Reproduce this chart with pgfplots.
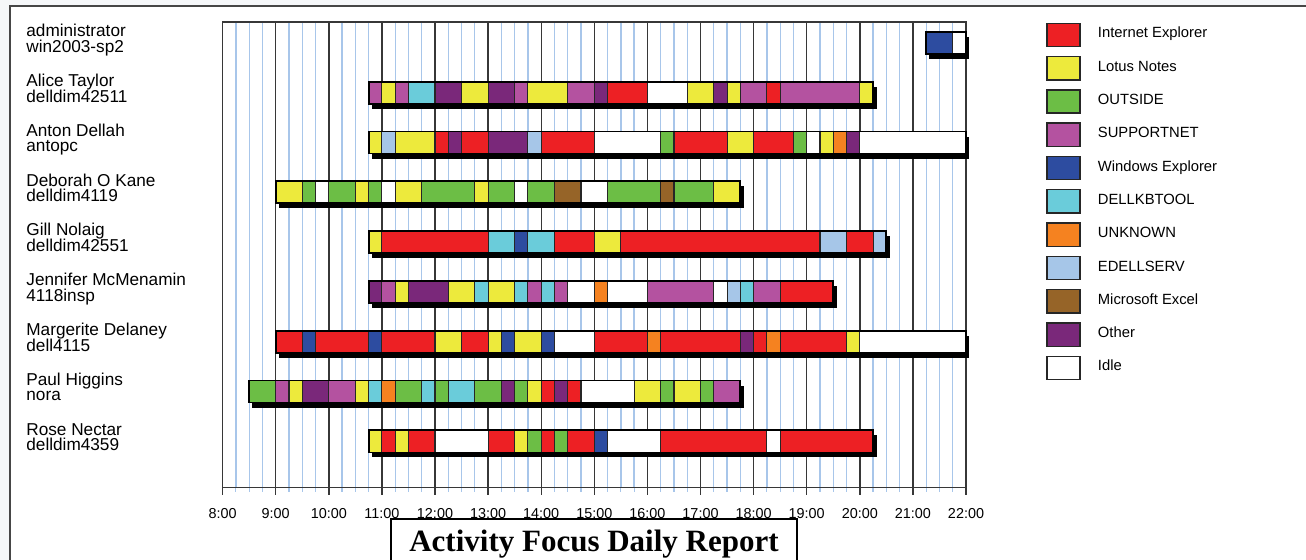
\documentclass[border=0pt]{standalone}
\usepackage{pgfplots}
\pgfplotsset{compat=1.18}
\usepackage{fontspec}
\setmainfont{Liberation Sans}
\newfontfamily\titlefont{Liberation Serif}
\definecolor{IE}{RGB}{237,32,36}
\definecolor{LN}{RGB}{237,234,60}
\definecolor{OUT}{RGB}{108,190,69}
\definecolor{SUP}{RGB}{180,82,160}
\definecolor{WE}{RGB}{45,76,160}
\definecolor{KB}{RGB}{106,204,218}
\definecolor{UNK}{RGB}{245,130,32}
\definecolor{ES}{RGB}{166,198,232}
\definecolor{XL}{RGB}{150,100,40}
\definecolor{OTH}{RGB}{122,40,122}
\definecolor{IDL}{RGB}{255,255,255}
\definecolor{gridblue}{RGB}{168,198,234}
\definecolor{hourline}{RGB}{55,55,55}
\definecolor{bgout}{RGB}{245,247,249}
\definecolor{framec}{RGB}{70,70,70}
% one segment of a row: row, start hour, end hour, colour
\newcommand\seg[4]{%
  \pgfmathsetmacro\yA{-#1-0.2209}%
  \pgfmathsetmacro\yB{-#1+0.2209}%
  \edef\tmp{\noexpand\addplot[fill=#4, draw=black!85, line width=0.55pt] coordinates {(#2,\yA) (#3,\yA) (#3,\yB) (#2,\yB)} -- cycle;}%
  \tmp}
\newcommand\shadowbar[3]{%
  \pgfmathsetmacro\yA{-#1-0.2209-0.1}%
  \pgfmathsetmacro\yB{-#1+0.2209-0.1}%
  \pgfmathsetmacro\xA{#2+0.06}%
  \pgfmathsetmacro\xB{#3+0.065}%
  \edef\tmp{\noexpand\addplot[fill=black, draw=none] coordinates {(\xA,\yA) (\xB,\yA) (\xB,\yB) (\xA,\yB)} -- cycle;}%
  \tmp}
\newcommand\outlinebar[3]{%
  \pgfmathsetmacro\yA{-#1-0.2209}%
  \pgfmathsetmacro\yB{-#1+0.2209}%
  \edef\tmp{\noexpand\addplot[fill=none, draw=black, line width=0.9pt] coordinates {(#2,\yA) (#3,\yA) (#3,\yB) (#2,\yB)} -- cycle;}%
  \tmp}
\begin{document}
\begin{tikzpicture}
\begin{scope}[x=0.5pt,y=-0.5pt]
\fill[bgout] (0,0) rectangle (1306,560);
\fill[white] (10,6) rectangle (1306,560);
\draw[framec, line width=0.75pt] (10,560) -- (10,6) -- (1306,6);
\end{scope}
\begin{axis}[
  at={(111.3pt,-243.85pt)}, anchor=south west,
  scale only axis, width=371.7pt, height=232.85pt,
  xmin=8, xmax=22, ymin=-8.9297, ymax=0.4217,
  clip=false,
  xtick={8,9,...,22},
  xticklabels={8:00,9:00,10:00,11:00,12:00,13:00,14:00,15:00,16:00,17:00,18:00,19:00,20:00,21:00,22:00},
  minor x tick num=3,
  ytick=\empty,
  xmajorgrids, xminorgrids,
  major grid style={draw=hourline, line width=0.7pt},
  minor grid style={draw=gridblue, line width=0.65pt},
  axis line style={draw=hourline, line width=0.75pt},
  tick align=outside, xtick pos=bottom,
  major tick length=3.5pt, minor tick length=2pt,
  major tick style={draw=hourline, line width=0.7pt},
  minor tick style={draw=gridblue, line width=0.6pt},
  xticklabel style={font=\fontsize{7.2}{8}\selectfont, anchor=north, inner sep=0pt, yshift=-6.5pt},
]
% administrator
\shadowbar{0}{21.25}{22}
\seg{0}{21.25}{21.75}{WE}
\seg{0}{21.75}{22}{IDL}
\outlinebar{0}{21.25}{22}
% Alice Taylor
\shadowbar{1}{10.75}{20.25}
\seg{1}{10.75}{11}{SUP}
\seg{1}{11}{11.25}{LN}
\seg{1}{11.25}{11.5}{SUP}
\seg{1}{11.5}{12}{KB}
\seg{1}{12}{12.5}{OTH}
\seg{1}{12.5}{13}{LN}
\seg{1}{13}{13.5}{OTH}
\seg{1}{13.5}{13.75}{SUP}
\seg{1}{13.75}{14.5}{LN}
\seg{1}{14.5}{15}{SUP}
\seg{1}{15}{15.25}{OTH}
\seg{1}{15.25}{16}{IE}
\seg{1}{16}{16.75}{IDL}
\seg{1}{16.75}{17.25}{LN}
\seg{1}{17.25}{17.5}{OTH}
\seg{1}{17.5}{17.75}{LN}
\seg{1}{17.75}{18.25}{SUP}
\seg{1}{18.25}{18.5}{IE}
\seg{1}{18.5}{20}{SUP}
\seg{1}{20}{20.25}{LN}
\outlinebar{1}{10.75}{20.25}
% Anton Dellah
\shadowbar{2}{10.75}{22}
\seg{2}{10.75}{11}{LN}
\seg{2}{11}{11.25}{ES}
\seg{2}{11.25}{12}{LN}
\seg{2}{12}{12.25}{IE}
\seg{2}{12.25}{12.5}{OTH}
\seg{2}{12.5}{13}{IE}
\seg{2}{13}{13.75}{OTH}
\seg{2}{13.75}{14}{ES}
\seg{2}{14}{15}{IE}
\seg{2}{15}{16.25}{IDL}
\seg{2}{16.25}{16.5}{OUT}
\seg{2}{16.5}{17.5}{IE}
\seg{2}{17.5}{18}{LN}
\seg{2}{18}{18.75}{IE}
\seg{2}{18.75}{19}{OUT}
\seg{2}{19}{19.25}{IDL}
\seg{2}{19.25}{19.5}{LN}
\seg{2}{19.5}{19.75}{UNK}
\seg{2}{19.75}{20}{OTH}
\seg{2}{20}{22}{IDL}
\outlinebar{2}{10.75}{22}
% Deborah O Kane
\shadowbar{3}{9}{17.75}
\seg{3}{9}{9.5}{LN}
\seg{3}{9.5}{9.75}{OUT}
\seg{3}{9.75}{10}{IDL}
\seg{3}{10}{10.5}{OUT}
\seg{3}{10.5}{10.75}{LN}
\seg{3}{10.75}{11}{OUT}
\seg{3}{11}{11.25}{IDL}
\seg{3}{11.25}{11.75}{LN}
\seg{3}{11.75}{12.75}{OUT}
\seg{3}{12.75}{13}{LN}
\seg{3}{13}{13.5}{OUT}
\seg{3}{13.5}{13.75}{IDL}
\seg{3}{13.75}{14.25}{OUT}
\seg{3}{14.25}{14.75}{XL}
\seg{3}{14.75}{15.25}{IDL}
\seg{3}{15.25}{16.25}{OUT}
\seg{3}{16.25}{16.5}{XL}
\seg{3}{16.5}{17.25}{OUT}
\seg{3}{17.25}{17.75}{LN}
\outlinebar{3}{9}{17.75}
% Gill Nolaig
\shadowbar{4}{10.75}{20.5}
\seg{4}{10.75}{11}{LN}
\seg{4}{11}{13}{IE}
\seg{4}{13}{13.5}{KB}
\seg{4}{13.5}{13.75}{WE}
\seg{4}{13.75}{14.25}{KB}
\seg{4}{14.25}{15}{IE}
\seg{4}{15}{15.5}{LN}
\seg{4}{15.5}{19.25}{IE}
\seg{4}{19.25}{19.75}{ES}
\seg{4}{19.75}{20.25}{IE}
\seg{4}{20.25}{20.5}{ES}
\outlinebar{4}{10.75}{20.5}
% Jennifer McMenamin
\shadowbar{5}{10.75}{19.5}
\seg{5}{10.75}{11}{OTH}
\seg{5}{11}{11.25}{SUP}
\seg{5}{11.25}{11.5}{LN}
\seg{5}{11.5}{12.25}{OTH}
\seg{5}{12.25}{12.75}{LN}
\seg{5}{12.75}{13}{KB}
\seg{5}{13}{13.5}{LN}
\seg{5}{13.5}{13.75}{KB}
\seg{5}{13.75}{14}{SUP}
\seg{5}{14}{14.25}{KB}
\seg{5}{14.25}{14.5}{SUP}
\seg{5}{14.5}{15}{IDL}
\seg{5}{15}{15.25}{UNK}
\seg{5}{15.25}{16}{IDL}
\seg{5}{16}{17.25}{SUP}
\seg{5}{17.25}{17.5}{IDL}
\seg{5}{17.5}{17.75}{ES}
\seg{5}{17.75}{18}{KB}
\seg{5}{18}{18.5}{SUP}
\seg{5}{18.5}{19.5}{IE}
\outlinebar{5}{10.75}{19.5}
% Margerite Delaney
\shadowbar{6}{9}{22}
\seg{6}{9}{9.5}{IE}
\seg{6}{9.5}{9.75}{WE}
\seg{6}{9.75}{10.75}{IE}
\seg{6}{10.75}{11}{WE}
\seg{6}{11}{12}{IE}
\seg{6}{12}{12.5}{LN}
\seg{6}{12.5}{13}{IE}
\seg{6}{13}{13.25}{LN}
\seg{6}{13.25}{13.5}{WE}
\seg{6}{13.5}{14}{LN}
\seg{6}{14}{14.25}{WE}
\seg{6}{14.25}{15}{IDL}
\seg{6}{15}{16}{IE}
\seg{6}{16}{16.25}{UNK}
\seg{6}{16.25}{17.75}{IE}
\seg{6}{17.75}{18}{OTH}
\seg{6}{18}{18.25}{IE}
\seg{6}{18.25}{18.5}{UNK}
\seg{6}{18.5}{19.75}{IE}
\seg{6}{19.75}{20}{LN}
\seg{6}{20}{22}{IDL}
\outlinebar{6}{9}{22}
% Paul Higgins
\shadowbar{7}{8.5}{17.75}
\seg{7}{8.5}{9}{OUT}
\seg{7}{9}{9.25}{SUP}
\seg{7}{9.25}{9.5}{LN}
\seg{7}{9.5}{10}{OTH}
\seg{7}{10}{10.5}{SUP}
\seg{7}{10.5}{10.75}{LN}
\seg{7}{10.75}{11}{KB}
\seg{7}{11}{11.25}{UNK}
\seg{7}{11.25}{11.75}{OUT}
\seg{7}{11.75}{12}{KB}
\seg{7}{12}{12.25}{OUT}
\seg{7}{12.25}{12.75}{KB}
\seg{7}{12.75}{13.25}{OUT}
\seg{7}{13.25}{13.5}{OTH}
\seg{7}{13.5}{13.75}{OUT}
\seg{7}{13.75}{14}{LN}
\seg{7}{14}{14.25}{IE}
\seg{7}{14.25}{14.5}{OTH}
\seg{7}{14.5}{14.75}{IE}
\seg{7}{14.75}{15.75}{IDL}
\seg{7}{15.75}{16.25}{LN}
\seg{7}{16.25}{16.5}{OUT}
\seg{7}{16.5}{17}{LN}
\seg{7}{17}{17.25}{OUT}
\seg{7}{17.25}{17.75}{SUP}
\outlinebar{7}{8.5}{17.75}
% Rose Nectar
\shadowbar{8}{10.75}{20.25}
\seg{8}{10.75}{11}{LN}
\seg{8}{11}{11.25}{IE}
\seg{8}{11.25}{11.5}{LN}
\seg{8}{11.5}{12}{IE}
\seg{8}{12}{13}{IDL}
\seg{8}{13}{13.5}{IE}
\seg{8}{13.5}{13.75}{LN}
\seg{8}{13.75}{14}{OUT}
\seg{8}{14}{14.25}{IE}
\seg{8}{14.25}{14.5}{OUT}
\seg{8}{14.5}{15}{IE}
\seg{8}{15}{15.25}{WE}
\seg{8}{15.25}{16.25}{IDL}
\seg{8}{16.25}{18.25}{IE}
\seg{8}{18.25}{18.5}{IDL}
\seg{8}{18.5}{20.25}{IE}
\outlinebar{8}{10.75}{20.25}
\end{axis}
\begin{scope}[x=0.5pt,y=-0.5pt]
% row labels
\foreach \r/\a/\b in {0/administrator/win2003-sp2, 1/Alice Taylor/delldim42511, 2/Anton Dellah/antopc, 3/Deborah O Kane/delldim4119, 4/Gill Nolaig/delldim42551, 5/Jennifer McMenamin/4118insp, 6/Margerite Delaney/dell4115, 7/Paul Higgins/nora, 8/Rose Nectar/delldim4359}{
  \node[anchor=base west, inner sep=0pt, font=\fontsize{8.6}{9}\selectfont] at (26,{36.7+49.8*\r}) {\a};
  \node[anchor=base west, inner sep=0pt, font=\fontsize{8.6}{9}\selectfont] at (26,{52.4+49.8*\r}) {\b};
}
% legend
\foreach \k/\c/\t in {0/IE/Internet Explorer, 1/LN/Lotus Notes, 2/OUT/OUTSIDE, 3/SUP/SUPPORTNET, 4/WE/Windows Explorer, 5/KB/DELLKBTOOL, 6/UNK/UNKNOWN, 7/ES/EDELLSERV, 8/XL/Microsoft Excel, 9/OTH/Other, 10/IDL/Idle}{
  \filldraw[fill=\c, draw=black!85, line width=0.7pt] (1047,{23.3+33.3*\k}) rectangle (1080,{46.6+33.3*\k});
  \node[anchor=base west, inner sep=0pt, font=\fontsize{7.4}{8}\selectfont] at (1097.5,{38*1+33.3*\k}) {\t};
}
% title box
\filldraw[fill=white, draw=black, line width=0.75pt] (391,519) rectangle (797,575);
\node[anchor=base, inner sep=0pt, font=\titlefont\bfseries\fontsize{15.5}{17}\selectfont] at (594,552) {Activity Focus Daily Report};
\pgfresetboundingbox
\path[use as bounding box] (0,0) rectangle (1306,560);
\end{scope}
\end{tikzpicture}
\end{document}
